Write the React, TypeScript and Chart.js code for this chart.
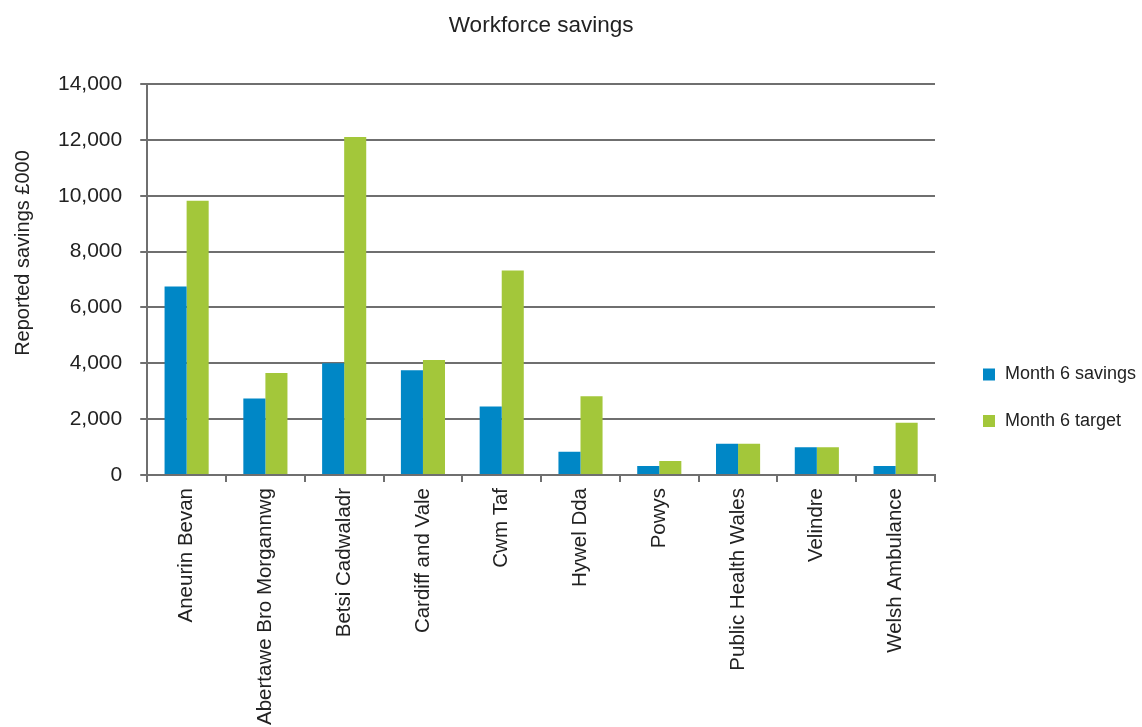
import React, { useEffect, useRef } from "react";
import { Chart, registerables } from "chart.js";

Chart.register(...registerables);

const categories = [
  "Aneurin Bevan",
  "Abertawe Bro Morgannwg",
  "Betsi Cadwaladr",
  "Cardiff and Vale",
  "Cwm Taf",
  "Hywel Dda",
  "Powys",
  "Public Health Wales",
  "Velindre",
  "Welsh Ambulance",
];
const month6Savings = [6750, 2740, 4000, 3750, 2450, 830, 320, 1120, 990, 320];
const month6Target = [9820, 3650, 12100, 4120, 7320, 2820, 500, 1120, 990, 1870];
const yMin = 0;
const yMax = 14000;
const yStep = 2000;
const chartTitle = "Workforce savings";
const yAxisTitle = "Reported savings £000";
const seriesNames = ["Month 6 savings", "Month 6 target"];
const seriesColors = ["#0087C6", "#A3C73A"];

const FONT = "'Liberation Sans', Arial, Helvetica, sans-serif";
const TEXT = "#222222";
const GRID = "#6f6f6f";

const yTitlePlugin = {
  id: "yTitlePlugin",
  afterDraw(chart: any) {
    const ctx = chart.ctx;
    ctx.save();
    ctx.translate(23, 253);
    ctx.rotate(-Math.PI / 2);
    ctx.font = `20px ${FONT}`;
    ctx.fillStyle = TEXT;
    ctx.textAlign = "center";
    ctx.textBaseline = "middle";
    ctx.fillText(yAxisTitle, 0, 0);
    ctx.restore();
  },
};

const sideLegendPlugin = {
  id: "sideLegendPlugin",
  afterDraw(chart: any) {
    const ctx = chart.ctx;
    const x0 = chart.chartArea.right + 48;
    let y = 374.5;
    ctx.save();
    ctx.font = `18px ${FONT}`;
    ctx.textAlign = "left";
    ctx.textBaseline = "middle";
    chart.data.datasets.forEach((ds: any) => {
      ctx.fillStyle = ds.backgroundColor;
      ctx.fillRect(x0, y - 6, 12, 12);
      ctx.fillStyle = TEXT;
      ctx.fillText(ds.label, x0 + 22, y);
      y += 46.5;
    });
    ctx.restore();
  },
};

export default function App() {
  const ref = useRef<HTMLCanvasElement | null>(null);
  useEffect(() => {
    document.body.style.margin = "0";
    const chart = new Chart(ref.current as HTMLCanvasElement, {
      type: "bar",
      data: {
        labels: categories,
        datasets: [
          {
            label: seriesNames[0],
            data: month6Savings,
            backgroundColor: seriesColors[0],
            borderWidth: 0,
            categoryPercentage: 0.56,
            barPercentage: 1.0,
          },
          {
            label: seriesNames[1],
            data: month6Target,
            backgroundColor: seriesColors[1],
            borderWidth: 0,
            categoryPercentage: 0.56,
            barPercentage: 1.0,
          },
        ],
      },
      options: {
        animation: false,
        responsive: false,
        maintainAspectRatio: false,
        layout: { padding: { left: 40, right: 207, top: 0, bottom: -4 } },
        plugins: {
          title: {
            display: true,
            fullSize: false,
            text: chartTitle,
            color: TEXT,
            font: { family: FONT, size: 22.5, weight: "normal" },
            padding: { top: 12, bottom: 45 },
          },
          legend: { display: false },
          tooltip: { enabled: false },
        },
        scales: {
          x: {
            offset: true,
            grid: {
              display: true,
              offset: true,
              drawOnChartArea: false,
              drawTicks: true,
              tickLength: 7,
              color: GRID,
              lineWidth: 2,
            },
            border: { display: true, color: GRID, width: 2 },
            ticks: {
              color: TEXT,
              font: { family: FONT, size: 20.5 },
              maxRotation: 90,
              minRotation: 90,
              autoSkip: false,
              padding: 6,
            },
          },
          y: {
            min: yMin,
            max: yMax,
            grid: {
              display: true,
              drawTicks: true,
              tickLength: 7,
              color: GRID,
              lineWidth: 2,
            },
            border: { display: true, color: GRID, width: 2 },
            ticks: {
              stepSize: yStep,
              color: TEXT,
              font: { family: FONT, size: 21 },
              padding: 18,
              callback: (v: any) => Number(v).toLocaleString("en-GB"),
            },
          },
        },
      },
      plugins: [yTitlePlugin, sideLegendPlugin],
    });
    return () => chart.destroy();
  }, []);
  return (
    <div style={{ position: "absolute", left: 0, top: 0, width: 1142, height: 727, background: "#fff" }}>
      <canvas ref={ref} width={1142} height={727} style={{ display: "block" }} />
    </div>
  );
}
